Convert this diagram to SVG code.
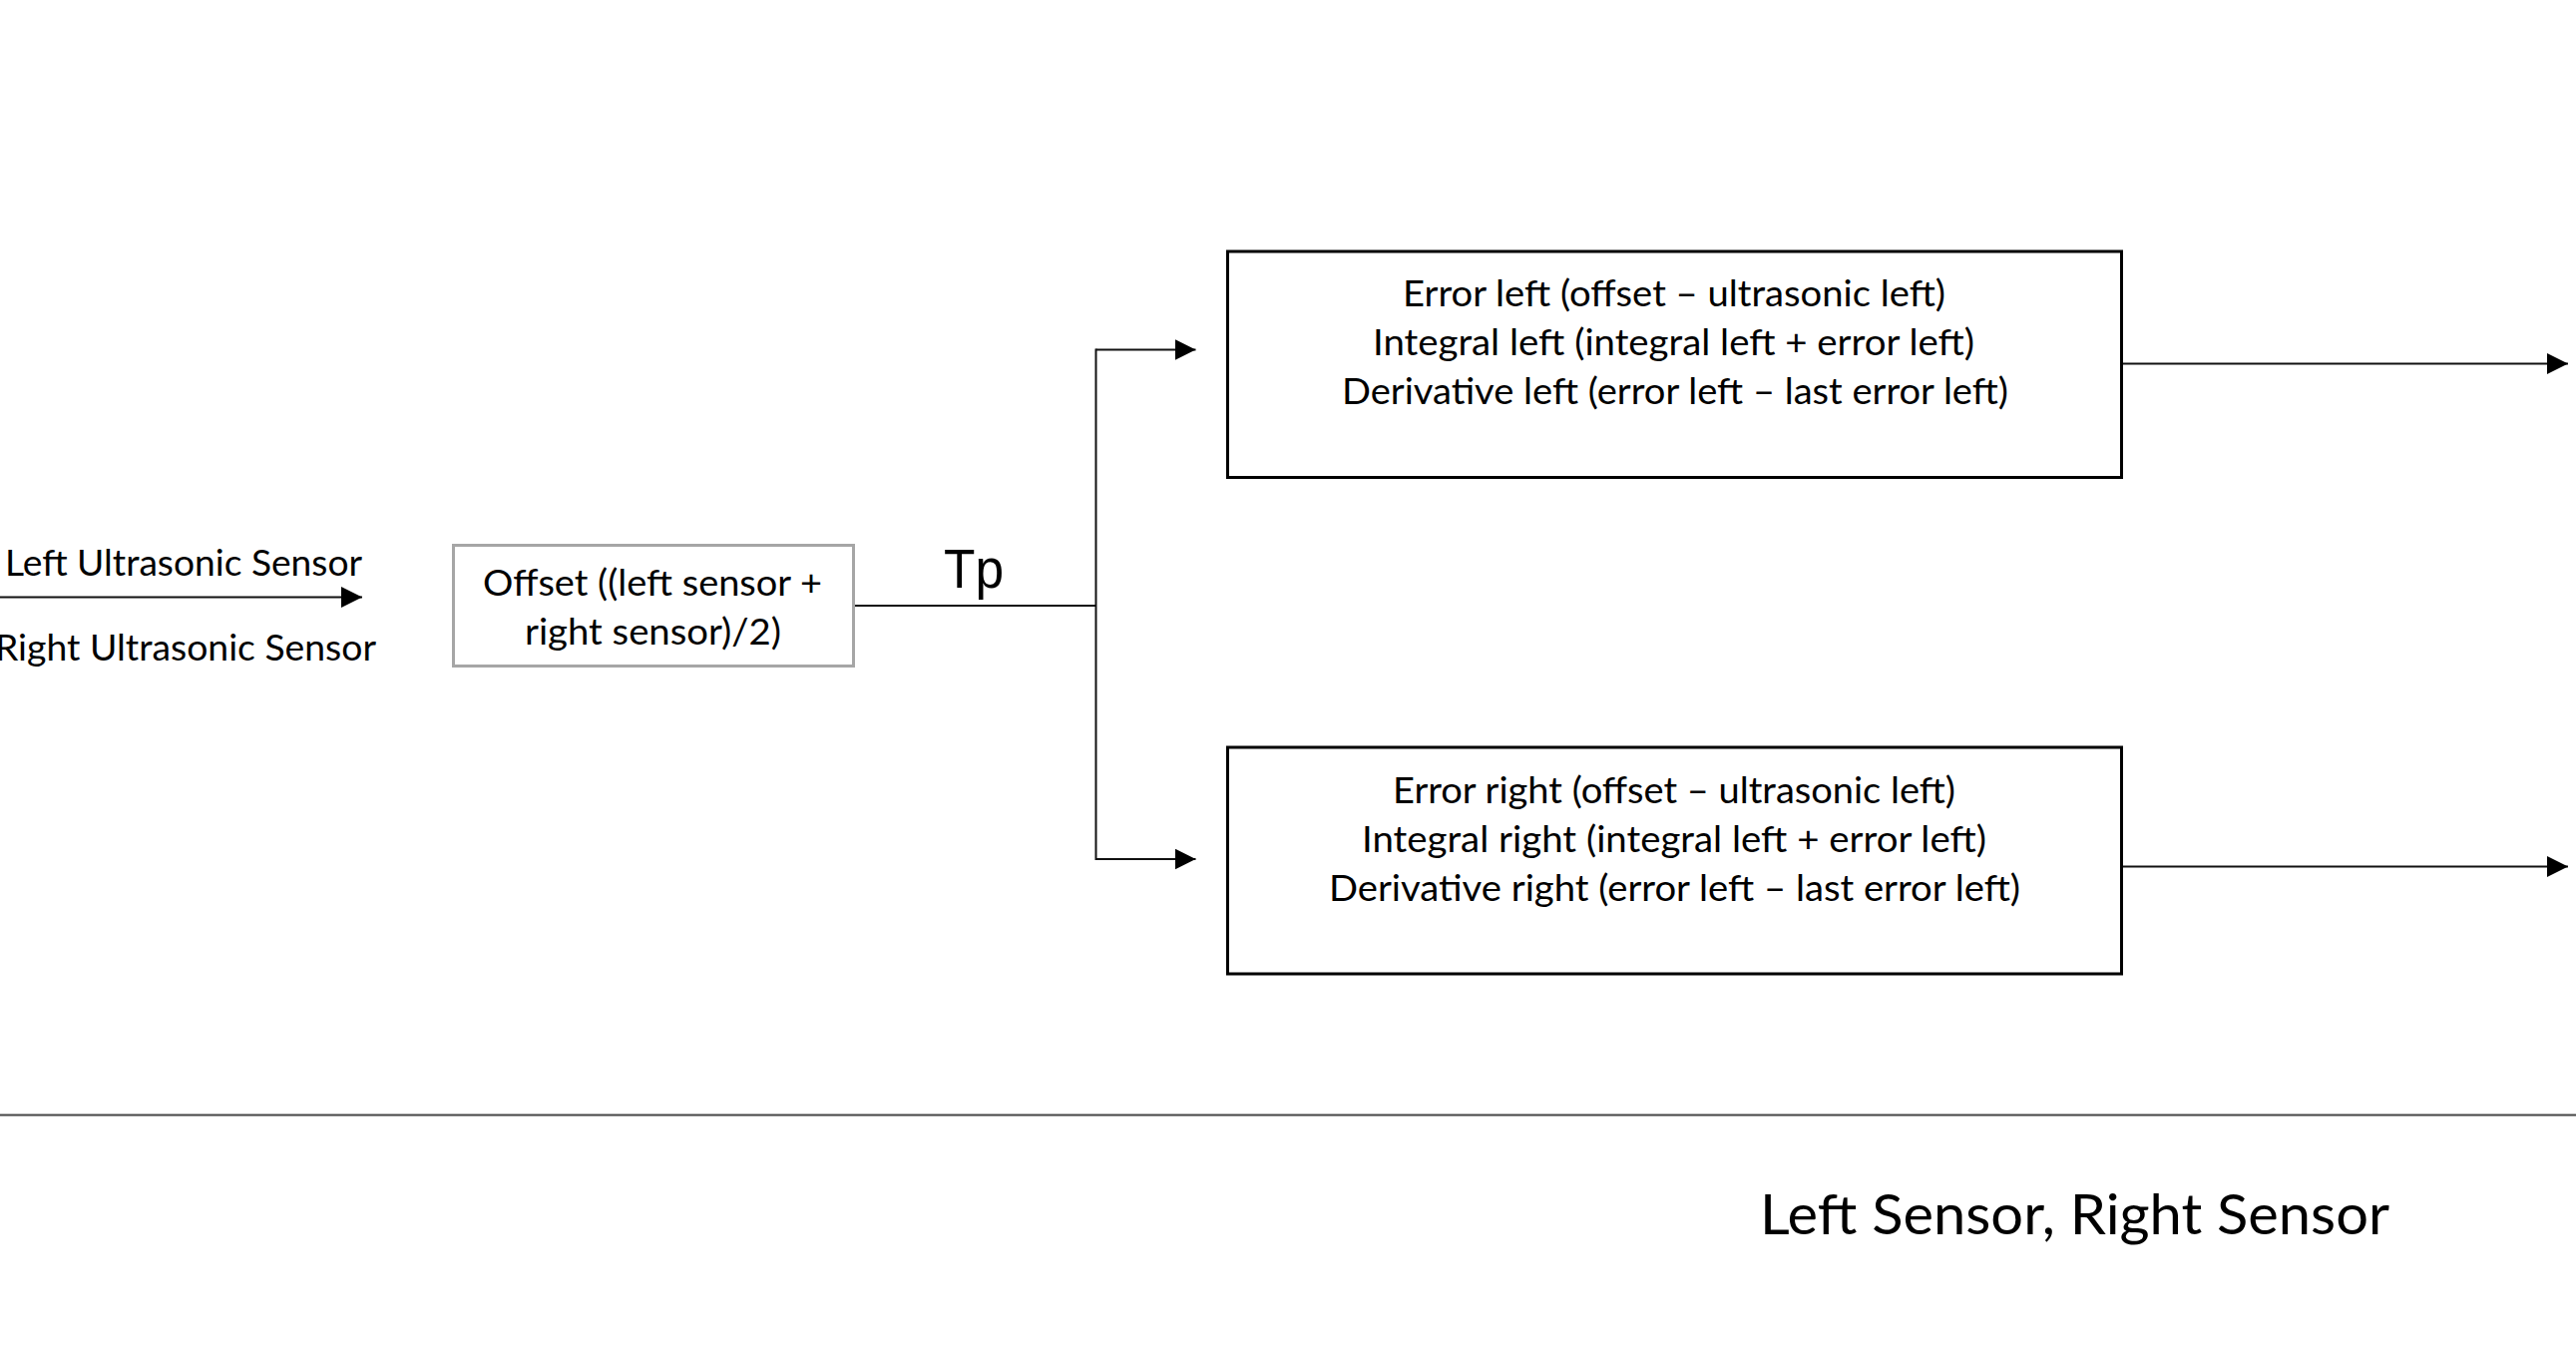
<svg xmlns="http://www.w3.org/2000/svg" width="2582" height="1354" viewBox="0 0 2582 1354">
  <style>
    .t { font-family: Lato, "Liberation Sans", sans-serif; font-size: 36px; fill: #000; }
    .big { font-family: Lato, "Liberation Sans", sans-serif; font-size: 56px; fill: #000; }
    .tp { font-family: "Liberation Sans", Arial, sans-serif; font-size: 56px; fill: #000; }
    .box { fill: #fff; stroke: #000; stroke-width: 3; }
    .gbox { fill: #fff; stroke: #a6a6a6; stroke-width: 3; }
    .ln { fill: none; stroke: #111; stroke-width: 2; }
  </style>
  <defs>
    <marker id="arr" markerUnits="userSpaceOnUse" markerWidth="21" markerHeight="21" refX="21" refY="10.5" orient="auto">
      <path d="M0,0 L21,10.5 L0,21 Z" fill="#000"/>
    </marker>
  </defs>
  <rect width="2582" height="1354" fill="#fff"/>

  <g id="connectors">
    <line class="ln" x1="0" y1="598.5" x2="363" y2="598.5" marker-end="url(#arr)"/>
    <line class="ln" x1="856" y1="607" x2="1098.5" y2="607"/>
    <line class="ln" x1="1098.5" y1="349.5" x2="1098.5" y2="862"/>
    <line class="ln" x1="1098.5" y1="350.5" x2="1198.5" y2="350.5" marker-end="url(#arr)"/>
    <line class="ln" x1="1098.5" y1="861" x2="1198.5" y2="861" marker-end="url(#arr)"/>
    <line class="ln" x1="2127" y1="364.5" x2="2574" y2="364.5" marker-end="url(#arr)"/>
    <line class="ln" x1="2127" y1="868.5" x2="2574" y2="868.5" marker-end="url(#arr)"/>
  </g>

  <g id="separator">
    <line x1="0" y1="1117.5" x2="2582" y2="1117.5" stroke="#444" stroke-width="2"/>
  </g>

  <g id="sensor-labels">
    <text class="t" x="5" y="577" textLength="358" lengthAdjust="spacingAndGlyphs">Left Ultrasonic Sensor</text>
    <text class="t" x="-5" y="662" textLength="382" lengthAdjust="spacingAndGlyphs">Right Ultrasonic Sensor</text>
  </g>

  <g id="offset-node">
    <rect class="gbox" x="454.5" y="546.5" width="401" height="121"/>
    <text class="t" x="484" y="597" textLength="340" lengthAdjust="spacingAndGlyphs">Offset ((left sensor +</text>
    <text class="t" x="526" y="646" textLength="257" lengthAdjust="spacingAndGlyphs">right sensor)/2)</text>
  </g>

  <g id="tp-label">
    <text class="tp" x="946" y="589" textLength="60" lengthAdjust="spacingAndGlyphs">Tp</text>
  </g>

  <g id="left-pid-node">
    <rect class="box" x="1230.5" y="252" width="896" height="226.5"/>
    <text class="t" x="1406" y="307" textLength="544" lengthAdjust="spacingAndGlyphs">Error left (offset – ultrasonic left)</text>
    <text class="t" x="1376" y="356" textLength="603" lengthAdjust="spacingAndGlyphs">Integral left (integral left + error left)</text>
    <text class="t" x="1345" y="405" textLength="668" lengthAdjust="spacingAndGlyphs">Derivative left (error left – last error left)</text>
  </g>

  <g id="right-pid-node">
    <rect class="box" x="1230.5" y="749" width="896" height="227"/>
    <text class="t" x="1396" y="805" textLength="564" lengthAdjust="spacingAndGlyphs">Error right (offset – ultrasonic left)</text>
    <text class="t" x="1365" y="854" textLength="626" lengthAdjust="spacingAndGlyphs">Integral right (integral left + error left)</text>
    <text class="t" x="1332" y="903" textLength="693" lengthAdjust="spacingAndGlyphs">Derivative right (error left – last error left)</text>
  </g>

  <g id="footer-label">
    <text class="big" x="1764" y="1237" textLength="631" lengthAdjust="spacingAndGlyphs">Left Sensor, Right Sensor</text>
  </g>
</svg>
